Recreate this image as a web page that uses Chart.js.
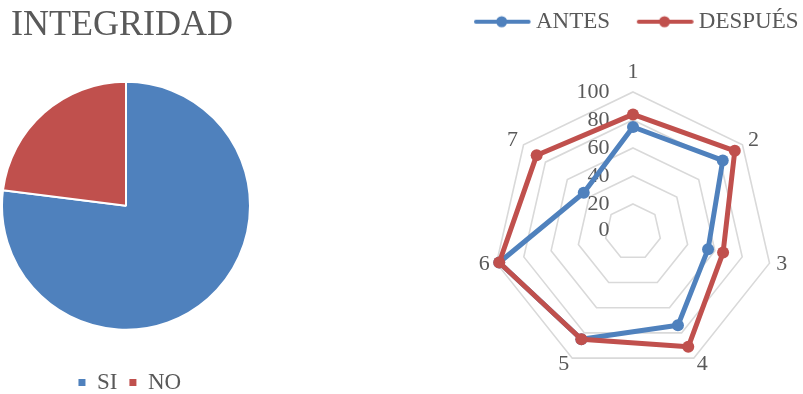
<!DOCTYPE html>
<html><head><meta charset="utf-8">
<script src="https://cdn.jsdelivr.net/npm/chart.js@4/dist/chart.umd.min.js"></script>
<style>
html,body{margin:0;padding:0;background:#fff;width:803px;height:394px;overflow:hidden;position:relative}
#pie{position:absolute;left:0;top:0}
#radar{position:absolute;left:443px;top:0}
</style></head><body>
<canvas id="pie" width="260" height="404"></canvas>
<canvas id="radar" width="380" height="394"></canvas>
<script>
const pieTitle = 'INTEGRIDAD';
const pieCategories = ['SI', 'NO'];
const pieValues = [77, 23];
const radarCategories = ['1', '2', '3', '4', '5', '6', '7'];
const radarTicks = [0, 20, 40, 60, 80, 100];
const seriesNames = ['ANTES', 'DESPUÉS'];
const antesValues = [75, 82, 55, 74, 85, 98, 45];
const despuesValues = [84, 93, 66, 91, 85, 98, 88];

const BLUE = '#4F81BD', RED = '#C0504D', TXT = '#595959', GRID = '#D9D9D9';
const SERIF = "'Liberation Serif', 'Times New Roman', serif";

const legendShift = {
  id: 'legendShift',
  afterLayout(chart, args, opts) {
    const l = chart.legend;
    if (l && opts.dx) { l.left += opts.dx; l.right += opts.dx; }
  }
};

new Chart(document.getElementById('pie'), {
  type: 'pie',
  data: { labels: pieCategories, datasets: [{ data: pieValues, backgroundColor: [BLUE, RED], borderColor: '#ffffff', borderWidth: 2, radius: 124 }] },
  options: {
    responsive: false, animation: false,
    layout: { padding: { left: 11, right: 19, top: 0, bottom: 0 } },
    plugins: {
      legendShift: { dx: 3.8 },
      title: { display: true, text: pieTitle, align: 'start', color: TXT, font: { family: SERIF, size: 36, weight: 'normal' }, padding: { top: 4, bottom: 34 } },
      legend: {
        position: 'bottom',
        title: { display: true, text: '', font: { size: 10 }, padding: { top: 8.35, bottom: 8.35 } },
        labels: {
          boxWidth: 7, boxHeight: 7, color: TXT, font: { family: SERIF, size: 23 }, padding: 12,
          generateLabels(chart) {
            const items = Chart.overrides.pie.plugins.legend.labels.generateLabels(chart);
            items.forEach(i => { i.lineWidth = 0; i.strokeStyle = 'rgba(0,0,0,0)'; });
            return items;
          }
        }
      },
      tooltip: { enabled: false }
    }
  },
  plugins: [legendShift]
});

function legendMarker(color) {
  const c = document.createElement('canvas');
  c.width = 80; c.height = 14;
  const g = c.getContext('2d');
  g.strokeStyle = color; g.lineWidth = 4; g.lineCap = 'round';
  g.beginPath(); g.moveTo(25, 7); g.lineTo(77.7, 7); g.stroke();
  g.fillStyle = color; g.beginPath(); g.arc(50.7, 7, 5.5, 0, Math.PI * 2); g.fill();
  return c;
}
const markers = [legendMarker(BLUE), legendMarker(RED)];

const radarTextPlugin = {
  id: 'radarText',
  beforeDatasetsDraw(chart) {
    const s = chart.scales.r, ctx = chart.ctx;
    ctx.save();
    ctx.font = "22px " + SERIF;
    ctx.fillStyle = TXT;
    ctx.textAlign = 'right'; ctx.textBaseline = 'middle';
    radarTicks.forEach(v => {
      const d = s.getDistanceFromCenterForValue(v);
      const y = v === radarTicks[0] ? s.yCenter - 1.8 : s.yCenter - d + 0.7;
      ctx.fillText(String(v), s.xCenter - 23.5, y);
    });
    radarCategories.forEach((lab, i) => {
      const deg = Math.round(s.getIndexAngle(i) * 180 / Math.PI) % 360;
      const p = s.getPointPosition(i, s.drawingArea + 7);
      let y = p.y;
      if (deg === 0) { ctx.textAlign = 'center'; y -= 13; }
      else if (deg === 180) { ctx.textAlign = 'center'; y += 13; }
      else if (deg < 180) ctx.textAlign = 'left';
      else ctx.textAlign = 'right';
      ctx.fillText(lab, p.x, y);
    });
    ctx.restore();
  }
};

new Chart(document.getElementById('radar'), {
  type: 'radar',
  data: {
    labels: radarCategories,
    datasets: [
      { label: seriesNames[0], data: antesValues, borderColor: BLUE, backgroundColor: BLUE, pointBackgroundColor: BLUE, pointBorderColor: BLUE, borderWidth: 5, pointRadius: 6, pointBorderWidth: 0, fill: false, order: 1 },
      { label: seriesNames[1], data: despuesValues, borderColor: RED, backgroundColor: RED, pointBackgroundColor: RED, pointBorderColor: RED, borderWidth: 5, pointRadius: 6, pointBorderWidth: 0, fill: false, order: 0 }
    ]
  },
  options: {
    responsive: false, animation: false,
    layout: { padding: { top: 0, left: 0, right: 0, bottom: 22 } },
    elements: { line: { tension: 0, borderJoinStyle: 'round' } },
    scales: {
      r: {
        min: 0, max: 100,
        ticks: { stepSize: 20, display: false },
        grid: { color: GRID, lineWidth: 1.6 },
        angleLines: { display: false },
        pointLabels: { display: false }
      }
    },
    plugins: {
      legendShift: { dx: 4.3 },
      subtitle: { display: true, text: '', position: 'top', weight: 500, font: { size: 10 }, padding: { top: 0, bottom: 36.8 } },
      legend: {
        position: 'top', align: 'start',
        labels: {
          usePointStyle: true, pointStyleWidth: 67, color: TXT, font: { family: SERIF, size: 23 }, padding: 10.2,
          generateLabels(chart) {
            return chart.data.datasets.map((ds, i) => ({
              text: ds.label, fillStyle: ds.borderColor, strokeStyle: ds.borderColor, lineWidth: 0,
              pointStyle: markers[i], datasetIndex: i, hidden: false, fontColor: TXT
            }));
          }
        }
      },
      tooltip: { enabled: false }
    }
  },
  plugins: [radarTextPlugin, legendShift]
});
</script>
</body></html>
